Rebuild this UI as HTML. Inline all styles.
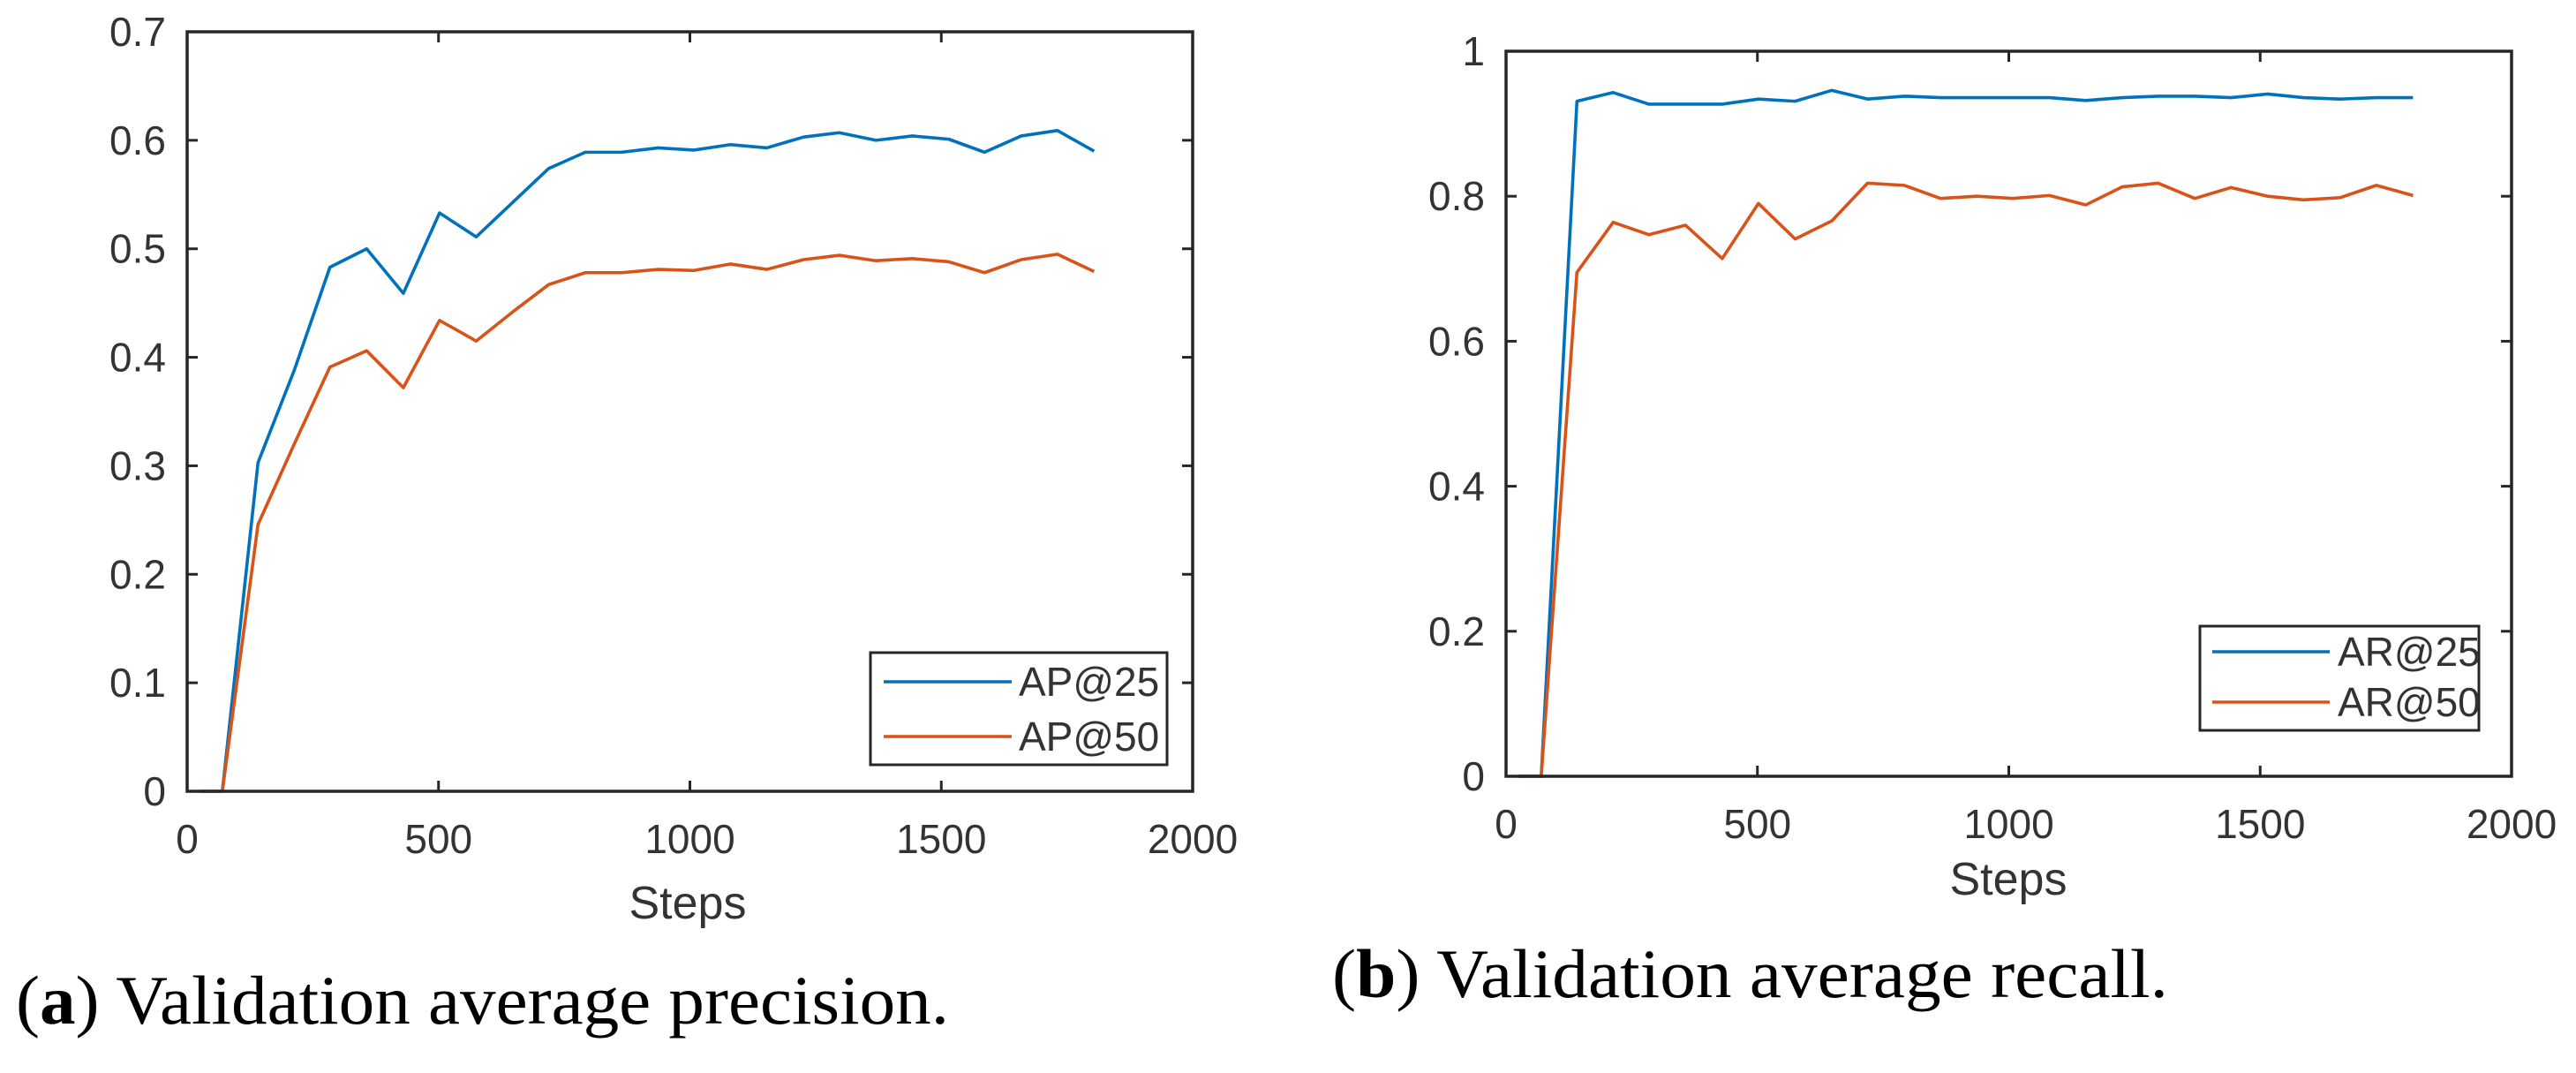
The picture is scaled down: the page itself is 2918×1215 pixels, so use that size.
<!DOCTYPE html>
<html><head><meta charset="utf-8">
<style>
html,body{margin:0;padding:0;background:#fff;}
svg{display:block;}
</style></head>
<body>
<svg id="fig" width="2918" height="1215" viewBox="0 0 2918 1215" xmlns="http://www.w3.org/2000/svg"></svg>
<script>
const steps = [25,70,141,213,284,357,430,502,575,648,719,792,864,937,1008,1081,1153,1226,1297,1370,1442,1515,1586,1659,1731,1804];
const ap25 = [0,0,0.303,0.388,0.483,0.500,0.459,0.533,0.511,0.543,0.574,0.589,0.589,0.593,0.591,0.596,0.593,0.603,0.607,0.600,0.604,0.601,0.589,0.604,0.609,0.590];
const ap50 = [0,0,0.246,0.320,0.391,0.406,0.372,0.434,0.415,0.442,0.467,0.478,0.478,0.481,0.480,0.486,0.481,0.490,0.494,0.489,0.491,0.488,0.478,0.490,0.495,0.479];
const ar25 = [0,0,0.931,0.943,0.927,0.927,0.927,0.934,0.931,0.946,0.934,0.938,0.936,0.936,0.936,0.936,0.932,0.936,0.938,0.938,0.936,0.941,0.936,0.934,0.936,0.936];
const ar50 = [0,0,0.695,0.764,0.747,0.760,0.714,0.790,0.741,0.766,0.818,0.815,0.797,0.800,0.797,0.801,0.788,0.813,0.818,0.797,0.812,0.800,0.795,0.798,0.815,0.801];
const xTicks = [0,500,1000,1500,2000];
const yTicksA = [0,0.1,0.2,0.3,0.4,0.5,0.6,0.7];
const yTicksB = [0,0.2,0.4,0.6,0.8,1];
const yLabelsB = ['0','0.2','0.4','0.6','0.8','1'];
const legendA = ['AP@25','AP@50'];
const legendB = ['AR@25','AR@50'];

const NS='http://www.w3.org/2000/svg';
const svg=document.getElementById('fig');
function mk(tag,attrs,parent){const e=document.createElementNS(NS,tag);for(const k in attrs)e.setAttribute(k,attrs[k]);(parent||svg).appendChild(e);return e;}

function chart(cfg){
  const g=mk('g',{});
  
  
  const sx=v=>cfg.x0+(v-0)/2000*(cfg.x1-cfg.x0);
  const sy=v=>cfg.y1-(v-0)/cfg.ymax*(cfg.y1-cfg.y0);
  cfg.yTicks.forEach((t,i)=>{
    const y=sy(t);
    const l=mk('line',{x1:cfg.x0,x2:cfg.x0+12,y1:y,y2:y,stroke:'#262626','stroke-width':3},g);
    
    
    const r=mk('line',{x1:cfg.x1-12,x2:cfg.x1,y1:y,y2:y,stroke:'#262626','stroke-width':3},g);
    
    
    const tx=mk('text',{x:cfg.x0-24,y:y+16,'text-anchor':'end','font-family':'Liberation Sans, sans-serif','font-size':46,fill:'#333'},g);
    tx.textContent=cfg.yLabels[i];
    
    
  });
  xTicks.forEach(t=>{
    const x=sx(t);
    const l=mk('line',{x1:x,x2:x,y1:cfg.y1,y2:cfg.y1-12,stroke:'#262626','stroke-width':3},g);
    
    
    const u=mk('line',{x1:x,x2:x,y1:cfg.y0,y2:cfg.y0+12,stroke:'#262626','stroke-width':3},g);
    
    
    const tx=mk('text',{x:x,y:cfg.y1+70,'text-anchor':'middle','font-family':'Liberation Sans, sans-serif','font-size':46,fill:'#333'},g);
    tx.textContent=String(t);
    
    
  });
  const cols=['#0072BD','#D95319'];
  cfg.series.forEach((s,i)=>{
    const p=mk('polyline',{points:steps.map((v,j)=>sx(v)+','+sy(s[j])).join(' '),fill:'none',stroke:cols[i],'stroke-width':3.6,'stroke-linejoin':'round'},g);
    
    
  });
  const fr=mk('rect',{x:cfg.x0,y:cfg.y0,width:cfg.x1-cfg.x0,height:cfg.y1-cfg.y0,fill:'none',stroke:'#262626','stroke-width':3.5},g);
  
  
  const L=cfg.leg;
  const lg=mk('g',{},g);
  
  
  mk('rect',{x:L.x0,y:L.y0,width:L.x1-L.x0,height:L.y1-L.y0,fill:'#fff',stroke:'#262626','stroke-width':3},lg);
  cfg.legend.forEach((n,i)=>{
    const y=L.ly[i];
    const e=mk('g',{},lg);
    
    
    mk('line',{x1:L.lx0,x2:L.lx1,y1:y,y2:y,stroke:cols[i],'stroke-width':3.5},e);
    const t=mk('text',{x:L.tx,y:y+16,'font-family':'Liberation Sans, sans-serif','font-size':46,fill:'#333'},e);
    t.textContent=n;
  });
  const xt=mk('text',{x:cfg.stepsX,y:cfg.stepsY+18,'text-anchor':'middle','font-family':'Liberation Sans, sans-serif','font-size':52,fill:'#333'},g);
  xt.textContent='Steps';
  
  
  const cap=mk('text',{x:cfg.capX0,y:cfg.capY+26,'font-family':'Liberation Serif, serif','font-size':78,fill:'#000',textLength:cfg.capX1-cfg.capX0,lengthAdjust:'spacingAndGlyphs'},g);
  
  
  const t1=mk('tspan',{},cap);t1.textContent='(';
  const t2=mk('tspan',{'font-weight':'bold'},cap);t2.textContent=cfg.capLetter;
  const t3=mk('tspan',{},cap);t3.textContent=') '+cfg.capText;
}

chart({name:'chart-average-precision',x0:212,x1:1351,y0:36,y1:896,ymax:0.7,yTicks:yTicksA,
  yLabels:yTicksA.map(v=>v===0?'0':v.toFixed(1)),series:[ap25,ap50],legend:legendA,
  leg:{x0:986,x1:1322,y0:739,y1:866,lx0:1001,lx1:1146,ly:[772,834],tx:1154},
  stepsX:779,stepsY:1022,capX0:18,capX1:1075,capY:1133,capLetter:'a',capText:'Validation average precision.'});
chart({name:'chart-average-recall',x0:1706,x1:2845,y0:58,y1:879,ymax:1,yTicks:yTicksB,
  yLabels:yLabelsB,series:[ar25,ar50],legend:legendB,
  leg:{x0:2492,x1:2808,y0:709,y1:827,lx0:2506,lx1:2639,ly:[738,795],tx:2648},
  stepsX:2275,stepsY:995,capX0:1509,capX1:2456,capY:1103,capLetter:'b',capText:'Validation average recall.'});
</script>
</body></html>
